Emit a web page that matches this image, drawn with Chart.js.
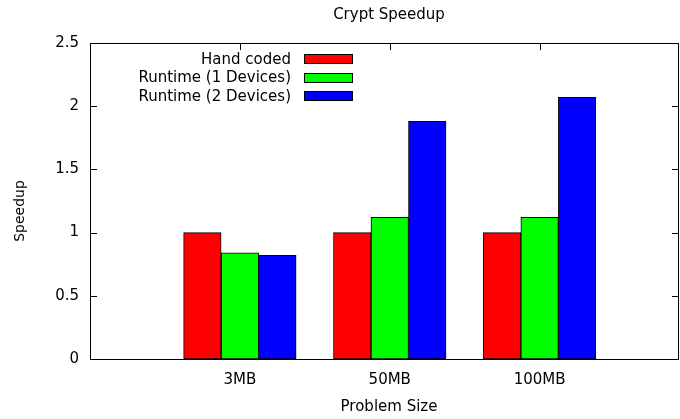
<!DOCTYPE html>
<html>
<head>
<meta charset="utf-8">
<script src="https://cdn.jsdelivr.net/npm/chart.js@4/dist/chart.umd.min.js"></script>
<style>
  body { margin: 0; background: #fff; }
  #wrap { width: 680px; height: 419px; }
</style>
</head>
<body>
<div id="wrap"><canvas id="myChart"></canvas></div>
<script>
// data
let categories = ['3MB', '50MB', '100MB'];
let seriesNames = ['Hand coded', 'Runtime (1 Devices)', 'Runtime (2 Devices)'];
let handCoded = [1.0, 1.0, 1.0];
let runtime1 = [0.84, 1.12, 1.12];
let runtime2 = [0.82, 1.88, 2.07];
let yTicks = [0, 0.5, 1, 1.5, 2, 2.5];

let colors = ['#ff0000', '#00ff00', '#0000ff'];
let fontFamily = '"DejaVu Sans", sans-serif';
let fontSize = 15;

function toPoints(values){
    return values.map((v, i) => ({ x: i, y: v }));
}

// plot frame, inward ticks, titles and the legend (gnuplot style)
let gnuplotLook = {
    id: 'gnuplotLook',
    beforeDatasetsDraw(chart){
        let ctx = chart.ctx;
        let area = chart.chartArea;
        let xs = chart.scales.x;
        let ys = chart.scales.y;
        ctx.save();
        ctx.strokeStyle = '#000';
        ctx.lineWidth = 1;
        ctx.beginPath();
        yTicks.forEach((t)=>{
            let py = Math.round(ys.getPixelForValue(t)) + 0.5;
            ctx.moveTo(area.left, py);
            ctx.lineTo(area.left + 7, py);
            ctx.moveTo(area.right, py);
            ctx.lineTo(area.right - 7, py);
        })
        categories.forEach((c, i)=>{
            let px = Math.round(xs.getPixelForValue(i)) + 0.5;
            ctx.moveTo(px, area.top);
            ctx.lineTo(px, area.top + 7);
            ctx.moveTo(px, area.bottom);
            ctx.lineTo(px, area.bottom - 7);
        })
        ctx.stroke();
        ctx.restore();
    },
    afterDraw(chart){
        let ctx = chart.ctx;
        let area = chart.chartArea;
        ctx.save();
        ctx.strokeStyle = '#000';
        ctx.lineWidth = 1;
        ctx.strokeRect(area.left + 0.5, area.top + 0.5, area.right - area.left - 1, area.bottom - area.top);

        ctx.fillStyle = '#000';
        ctx.font = fontSize + 'px ' + fontFamily;
        ctx.textAlign = 'center';
        ctx.textBaseline = 'middle';
        ctx.fillText('Crypt Speedup', 389, 15);
        ctx.fillText('Problem Size', 389, 407);
        ctx.save();
        ctx.translate(20, 211);
        ctx.rotate(-Math.PI / 2);
        ctx.font = '14px ' + fontFamily;
        ctx.fillText('Speedup', 0, 0);
        ctx.restore();

        // legend
        ctx.textAlign = 'right';
        chart.data.datasets.forEach((ds, i)=>{
            let cy = 59 + i * 18.5;
            ctx.fillStyle = '#000';
            ctx.fillText(ds.label, 291, cy + 1);
            ctx.fillStyle = ds.backgroundColor;
            ctx.fillRect(304, Math.round(cy - 5), 49, 10);
            ctx.strokeRect(304.5, Math.round(cy - 5) + 0.5, 48, 9);
        })
        ctx.restore();
    }
};

let ctx = document.getElementById('myChart').getContext('2d');
let myChart = new Chart(ctx, {
    type: 'bar',
    data: {
        datasets: [
            { label: seriesNames[0], data: toPoints(handCoded), backgroundColor: colors[0] },
            { label: seriesNames[1], data: toPoints(runtime1), backgroundColor: colors[1] },
            { label: seriesNames[2], data: toPoints(runtime2), backgroundColor: colors[2] }
        ]
    },
    options: {
        responsive: true,
        maintainAspectRatio: false,
        animation: false,
        layout: { padding: { top: 43, right: 1, left: 0, bottom: 0 } },
        datasets: {
            bar: { barThickness: 37.5, borderWidth: 1, borderColor: '#000', borderSkipped: false }
        },
        plugins: {
            legend: { display: false },
            title: { display: false },
            tooltip: { enabled: false }
        },
        scales: {
            x: {
                type: 'linear',
                offset: false,
                min: -1,
                max: 2.93,
                grid: { display: false, drawTicks: false, offset: false },
                border: { display: false },
                afterBuildTicks: (scale)=>{
                    scale.ticks = categories.map((c, i)=>({ value: i }));
                },
                afterFit: (scale)=>{ scale.height = 60; },
                ticks: {
                    padding: 12,
                    color: '#000',
                    font: { family: fontFamily, size: fontSize },
                    callback: (v)=> categories[v]
                }
            },
            y: {
                min: 0,
                max: 2.5,
                grid: { display: false, drawTicks: false },
                border: { display: false },
                afterBuildTicks: (scale)=>{
                    scale.ticks = yTicks.map((t)=>({ value: t }));
                },
                afterFit: (scale)=>{ scale.width = 90; },
                ticks: {
                    padding: 11,
                    color: '#000',
                    font: { family: fontFamily, size: fontSize },
                    callback: (v)=> String(v)
                }
            }
        }
    },
    plugins: [gnuplotLook]
});
</script>
</body>
</html>
